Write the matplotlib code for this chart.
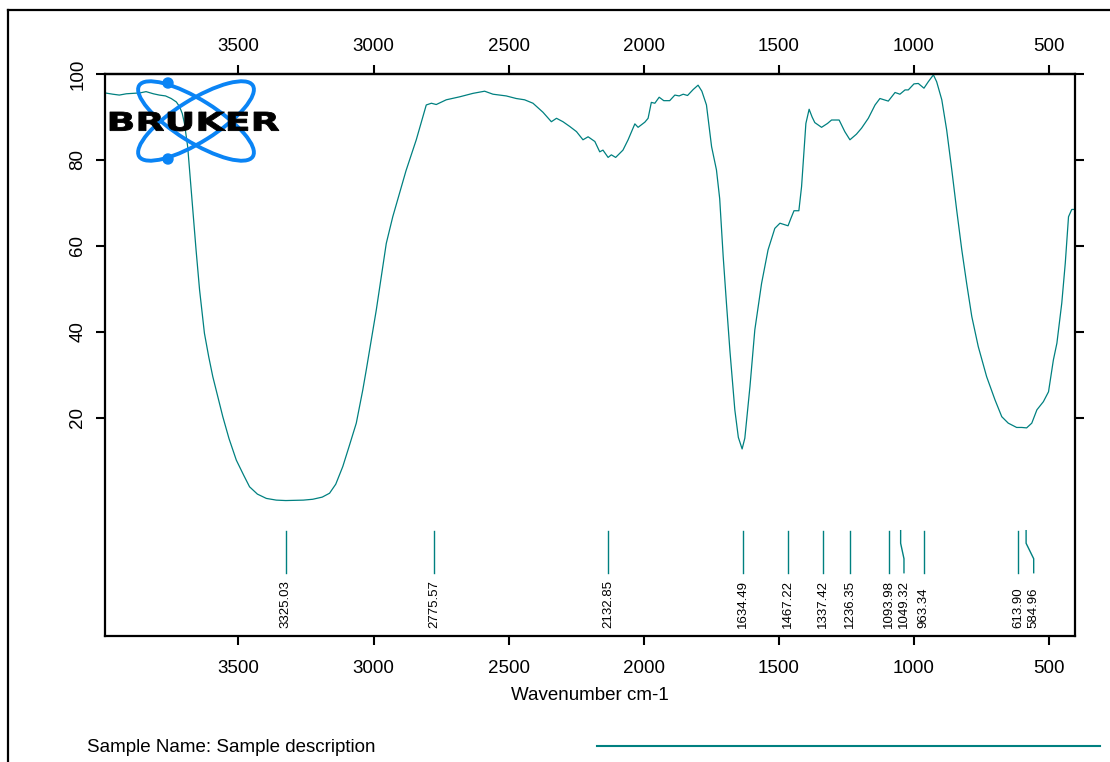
import matplotlib
matplotlib.use("Agg")
import matplotlib.pyplot as plt
from matplotlib.patches import Ellipse, Circle, PathPatch
from matplotlib.textpath import TextPath
from matplotlib.font_manager import FontProperties
from matplotlib.transforms import Affine2D
from matplotlib.lines import Line2D

plt.rcParams['font.family'] = ['Liberation Sans', 'DejaVu Sans']

# spectrum (wavenumber cm-1, transmittance %)
wavenumber = [
    3994, 3965, 3941, 3915, 3891, 3865, 3842, 3815, 3793, 3770, 3749, 3730,
    3718, 3708, 3700, 3688, 3681, 3669, 3657, 3644, 3626, 3610, 3595, 3575,
    3558, 3535, 3508, 3480, 3459, 3430, 3397, 3360, 3325, 3260, 3225, 3190,
    3163, 3140, 3114, 3090, 3064, 3040, 3027, 2990, 2953, 2929, 2904, 2880,
    2842, 2805, 2786, 2768, 2731, 2681, 2632, 2589, 2558, 2509, 2472, 2441,
    2410, 2373, 2342, 2323, 2299, 2274, 2249, 2225, 2206, 2181, 2163, 2151,
    2132, 2120, 2104, 2077, 2058, 2033, 2021, 1996, 1984, 1972, 1959, 1943,
    1926, 1904, 1885, 1869, 1854, 1838, 1817, 1799, 1785, 1768, 1749, 1731,
    1719, 1706, 1694, 1681, 1663, 1650, 1636, 1626, 1607, 1589, 1564, 1540,
    1515, 1496, 1466, 1455, 1444, 1426, 1416, 1400, 1388, 1377, 1367, 1342,
    1320, 1305, 1277, 1256, 1237, 1213, 1194, 1169, 1144, 1126, 1095, 1070,
    1052, 1033, 1021, 1000, 984, 963, 947, 928, 916, 897, 879, 860,
    842, 823, 805, 786, 762, 731, 700, 675, 651, 620, 601, 583,
    564, 545, 521, 502, 484, 471, 453, 440, 428, 416, 405,
]
transmittance = [
    95.6, 95.3, 95.1, 95.4, 95.5, 95.6, 95.9, 95.4, 95.1, 94.9, 94.3, 93.5,
    92.4, 90.8, 88.5, 83.1, 77.7, 68.4, 59.1, 49.8, 39.7, 34.2, 29.6, 24.6,
    20.3, 15.2, 10.2, 6.6, 4.0, 2.3, 1.3, 0.9, 0.8, 0.9, 1.1, 1.6,
    2.5, 4.6, 8.7, 13.5, 18.8, 26.5, 31.2, 45.1, 60.6, 66.8, 72.3, 77.5,
    84.7, 92.8, 93.2, 92.9, 94.0, 94.7, 95.5, 96.0, 95.3, 94.9, 94.3, 94.0,
    93.2, 91.1, 88.9, 89.7, 88.9, 87.8, 86.6, 84.7, 85.4, 84.3, 81.9, 82.3,
    80.6, 81.2, 80.6, 82.3, 84.7, 88.4, 87.6, 88.8, 89.7, 93.4, 93.2, 94.6,
    93.8, 93.8, 95.1, 94.9, 95.3, 95.0, 96.4, 97.4, 96.0, 92.8, 83.1, 77.7,
    71.0, 57.5, 46.7, 35.5, 21.9, 15.5, 12.8, 15.3, 27.3, 40.5, 51.3, 59.1,
    64.1, 65.3, 64.7, 66.5, 68.2, 68.2, 73.8, 88.5, 91.8, 90.0, 88.7, 87.6,
    88.5, 89.3, 89.3, 86.6, 84.7, 86.0, 87.4, 89.7, 92.8, 94.3, 93.7, 95.7,
    95.3, 96.3, 96.3, 97.7, 97.8, 96.7, 98.2, 99.8, 98.2, 94.0, 87.0, 77.7,
    68.4, 59.1, 51.3, 43.6, 36.6, 29.6, 24.2, 20.3, 18.8, 17.8, 17.8, 17.7,
    18.8, 21.9, 23.8, 26.1, 33.5, 37.4, 46.7, 56.0, 66.8, 68.5, 68.5,
]

peaks = [3325.03, 2775.57, 2132.85, 1634.49, 1467.22, 1337.42, 1236.35,
         1093.98, 1049.32, 963.34, 613.90, 584.96]

x_ticks = [3500, 3000, 2500, 2000, 1500, 1000, 500]
y_ticks = [20, 40, 60, 80, 100]

teal = '#008080'

fig = plt.figure(figsize=(11.1, 7.62), dpi=100)
ax = fig.add_axes([105 / 1110, 1 - 636 / 762, 970 / 1110, 562 / 762])

ax.plot(wavenumber, transmittance, color=teal, lw=0.9)
ax.set_xlim(3994, 404)
ax.set_ylim(-30.7, 100)
ax.set_xticks(x_ticks)
ax.set_yticks(y_ticks)

for s in ax.spines.values():
    s.set_linewidth(1.6)
ax.tick_params(direction='out', length=6.5, width=1.5, labelsize=13.5,
               right=True, labelright=False)
ax.tick_params(axis='x', pad=11)
ax.tick_params(axis='y', labelrotation=90, pad=7)
for lab in ax.get_yticklabels():
    lab.set_va('center')
ax.set_xlabel('Wavenumber cm-1', fontsize=13.5, labelpad=7)

# top axis carries its own labels so its pad can differ from the bottom one
top = ax.secondary_xaxis('top')
top.set_xticks(x_ticks)
top.spines['top'].set_linewidth(1.6)
top.tick_params(direction='out', length=6.5, width=1.5, labelsize=13.5, pad=7)

# peak picks, labels pushed apart where they would collide
min_gap = 57
label_x = []
for w in peaks:
    if label_x and label_x[-1] - w < min_gap:
        label_x.append(label_x[-1] - min_gap)
    else:
        label_x.append(w)

trans = ax.get_xaxis_transform()
for w, lx in zip(peaks, label_x):
    ax.plot([w, w, lx, lx], [0.1874, 0.1650, 0.1375, 0.1126],
            color=teal, lw=1, transform=trans)
    ax.text(lx, 0.0142, f"{w:.2f}", rotation=90, ha='center', va='bottom',
            fontsize=9.5, transform=trans)

# overlay in pixel units for logo and page decoration
ov = fig.add_axes([0, 0, 1, 1])
ov.set_xlim(0, 1110)
ov.set_ylim(762, 0)
ov.axis('off')

blue = '#0a84f5'
for ang in (32, -32):
    ov.add_patch(Ellipse((196, 121), 134, 42, angle=ang, fill=False,
                         ec=blue, lw=2.8))
ov.add_patch(Circle((168, 83), 5, color=blue))
ov.add_patch(Circle((168, 159), 5, color=blue))

tp = TextPath((0, 0), "BRUKER", size=1,
              prop=FontProperties(family='DejaVu Sans', weight='heavy'))
bb = tp.get_extents()
tf = (Affine2D().translate(-bb.x0, -bb.y0)
      .scale(169 / bb.width, -19 / bb.height).translate(110, 131))
ov.add_patch(PathPatch(tf.transform_path(tp), fc='black', ec='black', lw=0.6))

ov.add_line(Line2D([8, 8], [10, 762], color='black', lw=1.6))
ov.add_line(Line2D([8, 1110], [10, 10], color='black', lw=1.6))
ov.add_line(Line2D([597, 1100], [746, 746], color=teal, lw=1.5))
ov.text(87, 748, 'Sample Name: Sample description', fontsize=13.5,
        ha='left', va='center')

fig.savefig('out.png', dpi=100)
